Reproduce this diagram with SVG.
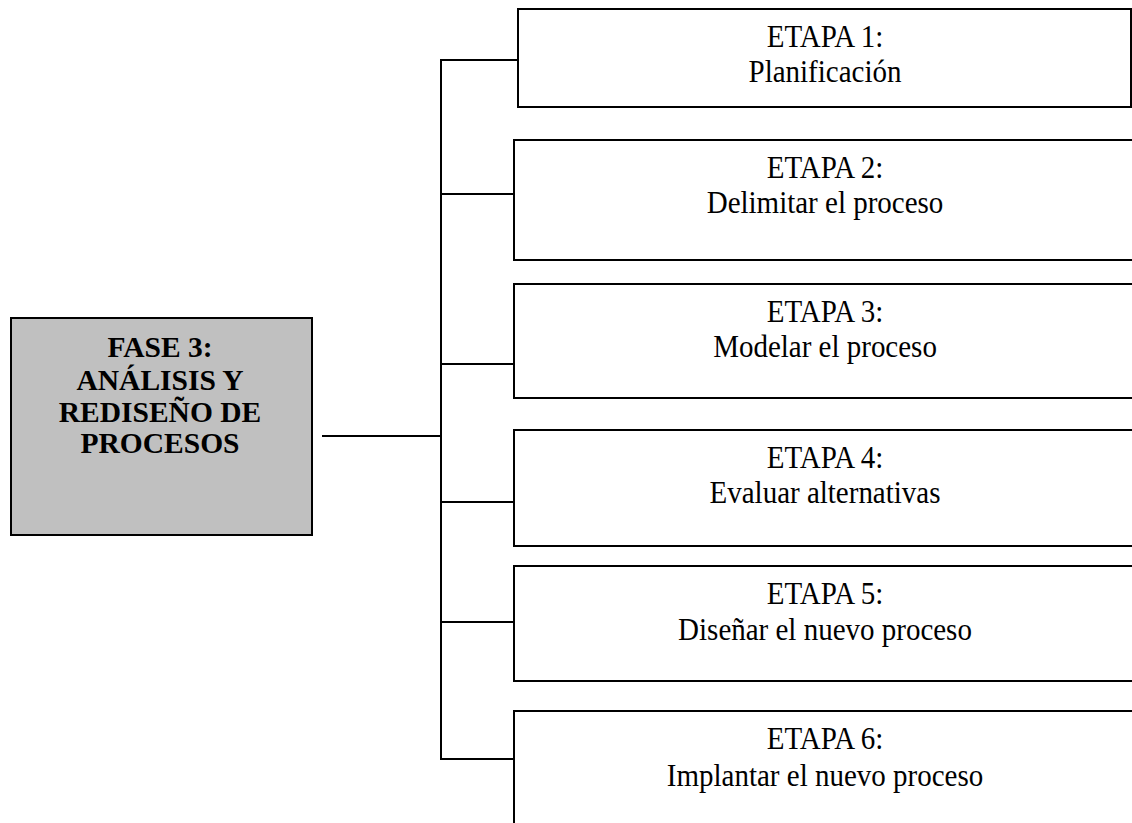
<svg xmlns="http://www.w3.org/2000/svg" width="1132" height="823" viewBox="0 0 1132 823">
  <style>
    .box { fill: #ffffff; stroke: #000000; stroke-width: 2; }
    .phase { fill: #c0c0c0; stroke: #000000; stroke-width: 2; }
    .wire { fill: none; stroke: #000000; stroke-width: 2; }
    .lbl { font-family: "Liberation Serif", "Times New Roman", serif; font-size: 29px; fill: #000000; text-anchor: middle; }
    .head { font-family: "Liberation Serif", "Times New Roman", serif; font-size: 29.5px; font-weight: bold; fill: #000000; text-anchor: middle; }
  </style>

  <rect width="1132" height="823" fill="#ffffff"/>

  <!-- connectors: phase to trunk, trunk, and branches to each stage -->
  <g id="connectors" class="wire">
    <line x1="322" y1="436" x2="441" y2="436"/>
    <line x1="441" y1="59" x2="441" y2="760"/>
    <line x1="441" y1="60" x2="518" y2="60"/>
    <line x1="441" y1="194" x2="514" y2="194"/>
    <line x1="441" y1="364" x2="514" y2="364"/>
    <line x1="441" y1="502" x2="514" y2="502"/>
    <line x1="441" y1="622" x2="514" y2="622"/>
    <line x1="441" y1="759" x2="514" y2="759"/>
  </g>

  <!-- phase node -->
  <g id="fase3">
    <rect class="phase" x="11" y="318" width="301" height="217"/>
    <text class="head" x="160" y="357">FASE 3:</text>
    <text class="head" x="160" y="390">ANÁLISIS Y</text>
    <text class="head" x="160" y="422">REDISEÑO DE</text>
    <text class="head" x="160" y="453">PROCESOS</text>
  </g>

  <!-- stage nodes -->
  <g id="etapa1">
    <rect class="box" x="518" y="9" width="613" height="98"/>
    <text class="lbl" transform="translate(825,47) scale(1,1.1)">ETAPA 1:</text>
    <text class="lbl" transform="translate(825,82) scale(1,1.1)">Planificación</text>
  </g>

  <g id="etapa2">
    <rect class="box" x="514" y="140" width="640" height="120"/>
    <text class="lbl" transform="translate(825,178) scale(1,1.1)">ETAPA 2:</text>
    <text class="lbl" transform="translate(825,213) scale(1,1.1)">Delimitar el proceso</text>
  </g>

  <g id="etapa3">
    <rect class="box" x="514" y="284" width="640" height="114"/>
    <text class="lbl" transform="translate(825,322) scale(1,1.1)">ETAPA 3:</text>
    <text class="lbl" transform="translate(825,357) scale(1,1.1)">Modelar el proceso</text>
  </g>

  <g id="etapa4">
    <rect class="box" x="514" y="430" width="640" height="116"/>
    <text class="lbl" transform="translate(825,468) scale(1,1.1)">ETAPA 4:</text>
    <text class="lbl" transform="translate(825,503) scale(1,1.1)">Evaluar alternativas</text>
  </g>

  <g id="etapa5">
    <rect class="box" x="514" y="566" width="640" height="115"/>
    <text class="lbl" transform="translate(825,604) scale(1,1.1)">ETAPA 5:</text>
    <text class="lbl" transform="translate(825,640) scale(1,1.1)">Diseñar el nuevo proceso</text>
  </g>

  <g id="etapa6">
    <rect class="box" x="514" y="711" width="640" height="140"/>
    <text class="lbl" transform="translate(825,749) scale(1,1.1)">ETAPA 6:</text>
    <text class="lbl" transform="translate(825,786) scale(1,1.1)">Implantar el nuevo proceso</text>
  </g>
</svg>
